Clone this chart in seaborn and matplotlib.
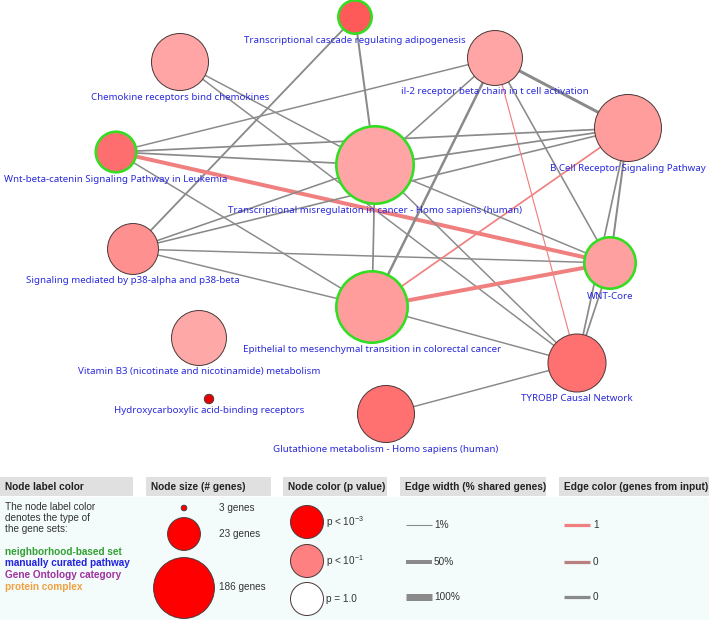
import numpy as np
import pandas as pd
import matplotlib
matplotlib.use("Agg")
import matplotlib.pyplot as plt
import seaborn as sns
from matplotlib.patches import Rectangle

# ---------------- data ----------------
node_names = [
    "Transcriptional cascade regulating adipogenesis",
    "Chemokine receptors bind chemokines",
    "il-2 receptor beta chain in t cell activation",
    "B Cell Receptor Signaling Pathway",
    "Wnt-beta-catenin Signaling Pathway in Leukemia",
    "Transcriptional misregulation in cancer - Homo sapiens (human)",
    "Signaling mediated by p38-alpha and p38-beta",
    "WNT-Core",
    "Epithelial to mesenchymal transition in colorectal cancer",
    "Vitamin B3 (nicotinate and nicotinamide) metabolism",
    "Hydroxycarboxylic acid-binding receptors",
    "TYROBP Causal Network",
    "Glutathione metabolism - Homo sapiens (human)",
]
node_x = [355, 180, 495, 628, 116, 375, 133, 610, 372, 199, 209, 577, 386]
node_y = [17, 62, 58, 128, 152, 165, 249, 263, 307, 338, 399, 363, 414]
node_genes = [27, 140, 120, 295, 46, 722, 89, 104, 461, 120, 4, 151, 140]
node_pvalue = [0.026, 0.197, 0.197, 0.167, 0.053, 0.197, 0.135, 0.18, 0.167, 0.208, 1e-4, 0.057, 0.057]
node_highlight = [1, 0, 0, 0, 1, 1, 0, 1, 1, 0, 0, 0, 0]

edge_source = ["A", "A", "C", "C", "W", "W", "W", "W", "W", "P", "P", "P", "P",
               "I", "I", "I", "I", "I", "B", "B", "B", "B", "M", "M", "M", "E", "E", "K", "G"]
edge_target = ["M", "P", "M", "T", "I", "M", "B", "K", "E", "M", "B", "K", "E",
               "B", "M", "E", "T", "K", "M", "E", "K", "T", "E", "T", "K", "K", "T", "T", "T"]
edge_shared_pct = [17, 14, 8, 8, 8, 12, 12, 50, 8, 10, 10, 8, 8,
                   33, 10, 25, 3, 10, 12, 12, 17, 12, 12, 8, 8, 50, 8, 12, 8]
edge_input_genes = [0, 0, 0, 0, 0, 0, 0, 1, 0, 0, 0, 0, 0,
                    0, 0, 0, 1, 0, 0, 1, 0, 0, 0, 0, 0, 1, 0, 0, 0]
node_keys = ["A", "C", "I", "B", "W", "M", "P", "K", "E", "V", "H", "T", "G"]

legend_label_types = ["neighborhood-based set", "manually curated pathway",
                      "Gene Ontology category", "protein complex"]
legend_genes = [3, 23, 186]
legend_gene_labels = ["3 genes", "23 genes", "186 genes"]
legend_pvalues = [1e-3, 1e-1, 1.0]
legend_p_labels = [r"p < 10$^{-3}$", r"p < 10$^{-1}$", "p = 1.0"]
legend_edge_pct = [1, 50, 100]
legend_edge_pct_labels = ["1%", "50%", "100%"]
legend_edge_input = ["1", "0", "0"]

# ---------------- style ----------------
sns.set_theme(style="white")
plt.rcParams["font.family"] = ["Liberation Sans", "DejaVu Sans"]
plt.rcParams["mathtext.fontset"] = "custom"
plt.rcParams["mathtext.rm"] = "Liberation Sans"
plt.rcParams["mathtext.it"] = "Liberation Sans"

W, H = 709, 620
DPI = 100
PX = 72.0 / DPI  # points per pixel

fig = plt.figure(figsize=(W / DPI, H / DPI), dpi=DPI)
ax = fig.add_axes([0, 0, 1, 1])
ax.set_xlim(0, W)
ax.set_ylim(H, 0)
ax.axis("off")


def radius_px(g):
    return 6.7 * np.log(np.asarray(g, dtype=float)) - 4.1


def node_color(p):
    x = -np.log10(p)
    t = np.interp(x, [0, 1, 3], [1.0, 0.5, 0.0])
    r = np.interp(x, [3, 5], [1.0, 0.82])
    return (float(r), float(t), float(t))


def edge_width_px(pct):
    return 1.0 + 6.0 * pct / 100.0


GRAY_EDGE = "#8a8a8a"
RED_EDGE = "#f08080"
LABEL_BLUE = "#2b2bdc"
GREEN_RING = "#33dd22"
DARK_RING = "#4d3b3b"

nodes = pd.DataFrame({
    "key": node_keys, "name": node_names, "x": node_x, "y": node_y,
    "genes": node_genes, "p": node_pvalue, "hl": node_highlight,
})
nodes["r"] = radius_px(nodes["genes"])
nodes["lw"] = np.where(nodes["hl"] == 1, 2.6, 1.0)
nodes["color"] = [node_color(p) for p in nodes["p"]]
pos = {k: (x, y) for k, x, y in zip(nodes["key"], nodes["x"], nodes["y"])}

# ---------------- edges ----------------
edges = pd.DataFrame({"s": edge_source, "t": edge_target,
                      "pct": edge_shared_pct, "inp": edge_input_genes})
for _, e in edges.iterrows():
    (x1, y1), (x2, y2) = pos[e["s"]], pos[e["t"]]
    ax.plot([x1, x2], [y1, y2], color=RED_EDGE if e["inp"] == 1 else GRAY_EDGE,
            lw=edge_width_px(e["pct"]) * PX, solid_capstyle="butt", zorder=1)

# ---------------- nodes ----------------
diam_pt = (2 * nodes["r"] - nodes["lw"]) * PX
sns.scatterplot(data=nodes, x="x", y="y", hue="name",
                palette=dict(zip(nodes["name"], nodes["color"])),
                s=(diam_pt ** 2).values,
                edgecolor=[GREEN_RING if h else DARK_RING for h in nodes["hl"]],
                linewidth=(nodes["lw"] * PX).values,
                legend=False, ax=ax, zorder=3)
ax.set_xlim(0, W)
ax.set_ylim(H, 0)
ax.axis("off")

for _, n in nodes.iterrows():
    ax.text(n["x"], n["y"] + n["r"] + 6, n["name"], ha="center", va="center",
            fontsize=7.0, color=LABEL_BLUE, family=["Noto Sans", "DejaVu Sans"], zorder=4)

# ---------------- legend ----------------
ax.add_patch(Rectangle((0, 497), W, H - 497, color="#f3fbfb", zorder=0, lw=0))
headers = [(0, 133, "Node label color"), (146, 271, "Node size (# genes)"),
           (283, 387, "Node color (p value)"), (400, 546, "Edge width (% shared genes)"),
           (559, 709, "Edge color (genes from input)")]
for x0, x1, txt in headers:
    ax.add_patch(Rectangle((x0, 477), x1 - x0, 19, color="#e0e0e0", zorder=0, lw=0))
    ax.text(x0 + 5, 486.5, txt, ha="left", va="center", fontsize=7.25,
            fontweight="bold", color="#222222", zorder=4)

TXT = "#333333"
FS = 7.2
for i, line in enumerate(["The node label color", "denotes the type of", "the gene sets:"]):
    ax.text(5, 507 + i * 11, line, ha="left", va="center", fontsize=FS, color=TXT)
for i, (lab, col) in enumerate(zip(legend_label_types,
                                   ["#33a033", "#2222e0", "#a030a0", "#f0a040"])):
    ax.text(5, 552 + i * 11.5, lab, ha="left", va="center", fontsize=FS,
            fontweight="bold", color=col)

# node size legend
size_leg = pd.DataFrame({"x": [184] * 3, "y": [508, 534, 588], "g": legend_genes})
size_leg["r"] = radius_px(size_leg["g"])
sns.scatterplot(data=size_leg, x="x", y="y", s=(((2 * size_leg["r"] - 1) * PX) ** 2).values,
                color=node_color(1e-3), edgecolor=DARK_RING, linewidth=1.0 * PX,
                legend=False, ax=ax, zorder=3)
for yy, lab in zip([508, 534, 587], legend_gene_labels):
    ax.text(219, yy, lab, ha="left", va="center", fontsize=FS, color=TXT)

# node colour legend
col_leg = pd.DataFrame({"x": [307] * 3, "y": [522, 561, 599], "p": legend_pvalues})
col_leg["c"] = [node_color(p) for p in col_leg["p"]]
sns.scatterplot(data=col_leg, x="x", y="y", hue="p",
                palette=dict(zip(col_leg["p"], col_leg["c"])),
                s=((33 * PX) ** 2), edgecolor=DARK_RING, linewidth=1.0 * PX,
                legend=False, ax=ax, zorder=3)
for yy, lab in zip([522, 561, 599], legend_p_labels):
    ax.text(326, yy, lab, ha="left", va="center", fontsize=FS, color=TXT)

# edge width legend
for yy, pct, lab in zip([525, 562, 597], legend_edge_pct, legend_edge_pct_labels):
    ax.plot([406, 432], [yy, yy], color=GRAY_EDGE, lw=edge_width_px(pct) * PX,
            solid_capstyle="butt", zorder=2)
    ax.text(434, yy, lab, ha="left", va="center", fontsize=FS, color=TXT)

# edge colour legend
for yy, lab, col in zip([525, 562, 597], legend_edge_input, [RED_EDGE, "#b88080", GRAY_EDGE]):
    ax.plot([564, 590], [yy, yy], color=col, lw=3.2 * PX, solid_capstyle="butt", zorder=2)
    ax.text(593, yy, lab, ha="left", va="center", fontsize=FS, color=TXT)

ax.set_xlim(0, W)
ax.set_ylim(H, 0)
fig.savefig("out.png", dpi=DPI)
